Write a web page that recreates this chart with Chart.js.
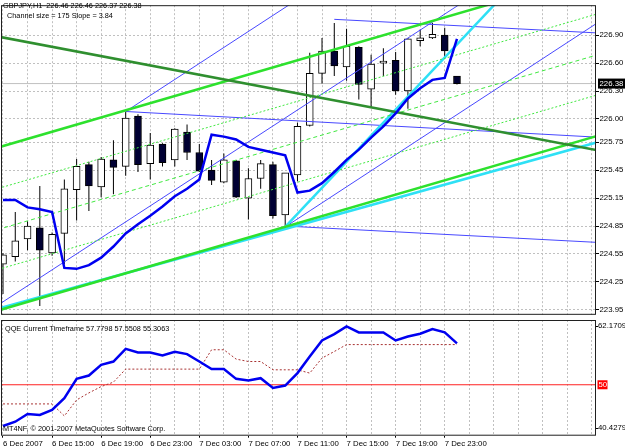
<!DOCTYPE html>
<html>
<head>
<meta charset="utf-8">
<script src="https://cdn.jsdelivr.net/npm/chart.js@4.4.0/dist/chart.umd.min.js"></script>
<style>
  html, body { margin: 0; padding: 0; background: #fff; }
  #wrap { position: relative; width: 625px; height: 448px; overflow: hidden; font-family: "Liberation Sans", Arial, sans-serif; }
  #main { position: absolute; left: 0; top: 0; }
  #sub { position: absolute; left: 0; top: 320px; }
  .lbl { position: absolute; font-size: 7.3px; line-height: 9px; color: #000; white-space: pre; }
</style>
</head>
<body>
<div id="wrap">
  <canvas id="main" width="625" height="320"></canvas>
  <canvas id="sub" width="625" height="128"></canvas>
  <div class="lbl" id="title" style="left:3px;top:1px"></div>
  <div class="lbl" id="chan" style="left:7px;top:10.5px"></div>
  <div class="lbl" id="qqeTitle" style="left:5px;top:323.5px"></div>
  <div class="lbl" style="left:3px;top:424px">MT4NF, © 2001-2007 MetaQuotes Software Corp.</div>
</div>
<script>
// GBPJPY H1, 6 Dec 2007 11:00 onwards (one entry per hourly bar)
const symbol = 'GBPJPY,H1';
const channelSize = 175;
const channelSlope = 3.84;

const opens  = [224.44, 224.52, 224.71, 224.83, 224.56, 224.77, 225.24, 225.51, 225.27, 225.56,
                225.49, 226.03, 225.52, 225.73, 225.56, 225.86, 225.64, 225.45, 225.32, 225.55,
                225.15, 225.36, 225.51, 224.97, 225.40, 225.93, 226.49, 226.73, 226.56, 226.77,
                226.32, 226.60, 226.63, 226.30, 226.84, 226.87, 226.90, 226.46];
const highs  = [224.56, 225.00, 224.90, 225.28, 224.78, 225.35, 225.57, 225.54, 225.59, 225.77,
                226.08, 226.05, 225.85, 225.74, 225.90, 225.94, 225.73, 225.56, 225.63, 225.56,
                225.47, 225.56, 225.54, 225.42, 225.96, 226.71, 226.87, 227.03, 226.97, 226.78,
                226.69, 226.76, 226.72, 226.87, 226.96, 227.03, 226.98, 226.46];
const lows   = [224.12, 224.47, 224.59, 223.99, 224.53, 224.44, 224.91, 225.01, 225.16, 225.19,
                225.39, 225.43, 225.35, 225.49, 225.49, 225.56, 225.43, 225.29, 225.31, 225.15,
                224.92, 225.25, 224.93, 224.84, 225.33, 225.92, 226.38, 226.46, 226.41, 226.21,
                226.13, 226.46, 226.26, 226.11, 226.78, 226.86, 226.66, 226.37];
const closes = [224.54, 224.69, 224.85, 224.59, 224.76, 225.25, 225.49, 225.28, 225.57, 225.48,
                226.01, 225.51, 225.72, 225.53, 225.89, 225.64, 225.44, 225.34, 225.56, 225.16,
                225.36, 225.52, 224.96, 225.42, 225.92, 226.49, 226.73, 226.57, 226.78, 226.37,
                226.59, 226.62, 226.30, 226.86, 226.87, 226.91, 226.73, 226.38];

// thick blue indicator line on the price chart
const blueLine = [225.13, 225.13, 225.05, 225.03, 225.00, 224.40, 224.39, 224.43, 224.51, 224.63,
                  224.77, 224.87, 224.96, 225.06, 225.17, 225.25, 225.35, 225.83, 225.81, 225.78,
                  225.70, 225.67, 225.64, 225.61, 225.21, 225.23, 225.31, 225.43, 225.56, 225.67,
                  225.80, 225.92, 226.06, 226.22, 226.33, 226.42, 226.44, 226.86];

// QQE sub window
const qqeFast = [42.25, 43.06, 44.52, 44.33, 45.27, 47.47, 51.11, 51.73, 53.75, 54.37,
                 56.76, 56.07, 56.07, 55.50, 56.20, 55.76, 54.37, 52.94, 52.94, 51.11,
                 50.79, 51.24, 49.41, 49.85, 52.19, 55.31, 58.33, 59.53, 60.97, 59.84,
                 59.84, 59.84, 58.33, 59.08, 59.59, 60.48, 59.84, 57.7798];
const qqeSlow = [46.40, 46.40, 46.40, 46.40, 46.40, 44.14, 47.15, 48.47, 49.66, 50.49,
                 52.94, 52.94, 52.94, 52.94, 52.94, 52.94, 52.94, 56.58, 56.58, 54.82,
                 54.37, 54.37, 52.81, 52.81, 52.81, 52.19, 55.01, 56.25, 57.5508, 57.5508,
                 57.5508, 57.5508, 57.5508, 57.5508, 57.5508, 57.5508, 57.5508, 57.5508];
const qqeThird = 55.3063;
const qqeLevel = 50;
const qqeMax = 62.1709;
const qqeMin = 40.4279;

// trend lines: [bar1, price1, bar2, price2]
const darkGreenLine = [-1, 226.90, 49, 225.65];
const greenUpper    = [-1, 225.67, 49, 227.59];
const greenDot1     = [-1, 225.23, 49, 227.15];
const greenMid      = [-1, 224.79, 49, 226.71];
const greenDot3     = [-1, 224.36, 49, 226.28];
const greenLower    = [-1, 223.92, 49, 225.84];
const cyanLower     = [-1, 223.94, 49, 225.77];
const cyanSteep     = [23, 224.84, 41, 227.36];
const blueUp1       = [10, 226.08, 25, 227.37];
const blueUp2       = [-1, 223.95, 40, 227.47];
const blueUp3       = [23, 224.84, 49, 227.08];
const blueFlat1     = [27, 227.07, 49, 226.92];
const blueFlat2     = [10, 226.08, 49, 225.80];
const blueFlat3     = [23, 224.85, 49, 224.67];

// axes
const priceTicks = [226.90, 226.60, 226.30, 226.00, 225.75, 225.45, 225.15, 224.85, 224.55, 224.25, 223.95];
const priceMin = 223.896, priceMax = 227.222;
const barMin = -0.163, barMax = 48.33;
const gridBars = [0, 2, 4, 6, 8, 10, 12, 14, 16, 18, 20, 22, 24, 26, 28, 30, 32, 34, 36, 38, 40, 42, 44, 46, 48];
const timeLabelBars = [0, 4, 8, 12, 16, 20, 24, 28, 32, 36];
const timeLabels = ['6 Dec 2007', '6 Dec 15:00', '6 Dec 19:00', '6 Dec 23:00', '7 Dec 03:00',
                    '7 Dec 07:00', '7 Dec 11:00', '7 Dec 15:00', '7 Dec 19:00', '7 Dec 23:00'];

const last = opens.length - 1;
const lastClose = closes[last];

document.getElementById('title').textContent =
  `${symbol}  ${opens[last].toFixed(2)} ${highs[last].toFixed(2)} ${lows[last].toFixed(2)} ${closes[last].toFixed(2)}`;
document.getElementById('chan').textContent = `Channel size = ${channelSize} Slope = ${channelSlope}`;
document.getElementById('qqeTitle').textContent =
  `QQE Current Timeframe ${qqeFast[last].toFixed(4)} ${qqeSlow[last].toFixed(4)} ${qqeThird.toFixed(4)}`;

Chart.defaults.font.family = '"Liberation Sans", Arial, sans-serif';
Chart.defaults.color = '#000';

const FONT = { family: '"Liberation Sans", Arial, sans-serif', size: 7.8 };

function trend(seg, color, width, dash) {
  return {
    type: 'line',
    data: [{ x: seg[0], y: seg[1] }, { x: seg[2], y: seg[3] }],
    borderColor: color,
    borderWidth: width,
    borderDash: dash || [],
    pointRadius: 0,
    clip: 0,
    order: 5
  };
}

// draws the frame of the plot area
const frame = {
  id: 'frame',
  afterDraw(chart) {
    const { ctx, chartArea: a } = chart;
    ctx.save();
    ctx.strokeStyle = '#202020';
    ctx.lineWidth = 1;
    ctx.strokeRect(a.left + 0.5, a.top + 0.5, a.right - a.left - 1, a.bottom - a.top - 1);
    ctx.restore();
  }
};

// current price marker on the price axis
const priceBox = {
  id: 'priceBox',
  afterDraw(chart) {
    const { ctx, chartArea: a, scales } = chart;
    const y = scales.y.getPixelForValue(lastClose);
    ctx.save();
    ctx.fillStyle = '#000';
    ctx.fillRect(a.right + 2, y - 5, 27, 10);
    ctx.fillStyle = '#fff';
    ctx.font = '7.8px "Liberation Sans", Arial, sans-serif';
    ctx.textBaseline = 'middle';
    ctx.fillText(lastClose.toFixed(2), a.right + 3.5, y + 0.5);
    ctx.restore();
  }
};

// labels of the QQE window scale
const qqeScale = {
  id: 'qqeScale',
  afterDraw(chart) {
    const { ctx, chartArea: a, scales } = chart;
    const y = scales.y;
    const yTop = y.getPixelForValue(qqeMax) + 5.5;
    const yBot = y.getPixelForValue(qqeMin) - 7.5;
    const yLev = y.getPixelForValue(qqeLevel);
    ctx.save();
    ctx.font = '7.8px "Liberation Sans", Arial, sans-serif';
    ctx.textBaseline = 'middle';
    ctx.strokeStyle = '#000';
    ctx.lineWidth = 1;
    ctx.beginPath();
    ctx.moveTo(a.right, Math.round(yTop) + 0.5); ctx.lineTo(a.right + 2, Math.round(yTop) + 0.5);
    ctx.moveTo(a.right, Math.round(yBot) + 0.5); ctx.lineTo(a.right + 2, Math.round(yBot) + 0.5);
    ctx.stroke();
    ctx.fillStyle = '#000';
    ctx.fillText(qqeMax.toFixed(4), a.right + 2, yTop);
    ctx.fillText(qqeMin.toFixed(4), a.right + 2, yBot);
    ctx.fillStyle = '#ff0000';
    ctx.fillRect(a.right + 1.5, yLev - 4.5, 10, 9);
    ctx.fillStyle = '#fff';
    ctx.fillText(String(qqeLevel), a.right + 2.5, yLev + 0.5);
    ctx.restore();
  }
};

const wickData = highs.map((h, i) => ({ x: i, y: [lows[i], h] }));
const bodyData = opens.map((o, i) => ({ x: i, y: [o, closes[i]] }));
const bodyColors = opens.map((o, i) => closes[i] >= o ? '#ffffff' : '#000033');

new Chart(document.getElementById('main'), {
  type: 'bar',
  data: {
    datasets: [
      {
        type: 'line',
        data: [{ x: barMin - 1, y: lastClose }, { x: barMax + 1, y: lastClose }],
        borderColor: '#c0c0c0', borderWidth: 1, pointRadius: 0, clip: 0, order: 30
      },
      {
        data: wickData, backgroundColor: '#000', barThickness: 1, grouped: false,
        inflateAmount: 0, borderWidth: 0, order: 21
      },
      {
        data: bodyData, backgroundColor: bodyColors, borderColor: '#000', borderWidth: 1,
        borderSkipped: false, barThickness: 7, grouped: false, minBarLength: 2, order: 20
      },
      trend(darkGreenLine, '#2f8f2f', 2.5),
      trend(greenUpper, '#2de12d', 2.5),
      trend(greenLower, '#2de12d', 2.5),
      trend(greenDot1, '#40e840', 1, [2, 2]),
      trend(greenMid, '#40e840', 1, [4, 3]),
      trend(greenDot3, '#40e840', 1, [2, 2]),
      trend(cyanLower, '#2ee0f5', 2.5),
      trend(cyanSteep, '#2ee0f5', 2.5),
      trend(blueUp1, '#4848ff', 1),
      trend(blueUp2, '#4848ff', 1),
      trend(blueUp3, '#4848ff', 1),
      trend(blueFlat1, '#4848ff', 1),
      trend(blueFlat2, '#4848ff', 1),
      trend(blueFlat3, '#4848ff', 1),
      {
        type: 'line',
        data: blueLine.map((v, i) => ({ x: i, y: v })),
        borderColor: '#0000f0', borderWidth: 2.5, pointRadius: 0, clip: 0, order: 1
      }
    ]
  },
  options: {
    responsive: false,
    animation: false,
    events: [],
    layout: { padding: { left: 1, top: 1, right: 0, bottom: 1.5 } },
    plugins: { legend: { display: false }, tooltip: { enabled: false } },
    scales: {
      x: {
        type: 'linear', min: barMin, max: barMax, offset: false,
        afterBuildTicks: s => { s.ticks = gridBars.map(v => ({ value: v })); },
        afterFit: s => { s.height = 0; },
        ticks: { display: false },
        grid: { color: '#c0c0c0', drawTicks: false, offset: false },
        border: { display: false, dash: [2, 2] }
      },
      y: {
        type: 'linear', position: 'right', min: priceMin, max: priceMax,
        afterBuildTicks: s => { s.ticks = priceTicks.map(v => ({ value: v })); },
        afterFit: s => { s.width = 29; },
        ticks: { font: FONT, color: '#000', padding: 0.5, callback: v => v.toFixed(2) },
        grid: { color: '#c0c0c0', tickLength: 3, tickColor: '#000' },
        border: { display: false, dash: [2, 2] }
      }
    }
  },
  plugins: [frame, priceBox]
});

new Chart(document.getElementById('sub'), {
  type: 'line',
  data: {
    datasets: [
      {
        data: [{ x: barMin - 1, y: qqeLevel }, { x: barMax + 1, y: qqeLevel }],
        borderColor: '#ff2020', borderWidth: 1, pointRadius: 0, clip: 0, order: 3
      },
      {
        data: qqeSlow.map((v, i) => ({ x: i, y: v })),
        borderColor: '#a83232', borderWidth: 1, borderDash: [2, 2], pointRadius: 0, clip: 0, order: 2
      },
      {
        data: qqeFast.map((v, i) => ({ x: i, y: v })),
        borderColor: '#0000f0', borderWidth: 2.5, pointRadius: 0, clip: 0, order: 1
      }
    ]
  },
  options: {
    responsive: false,
    animation: false,
    events: [],
    layout: { padding: { left: 1, top: 0, right: 0, bottom: 0 } },
    plugins: { legend: { display: false }, tooltip: { enabled: false } },
    scales: {
      x: {
        type: 'linear', min: barMin, max: barMax, offset: false,
        afterBuildTicks: s => { s.ticks = gridBars.map(v => ({ value: v })); },
        afterFit: s => { s.height = 12.3; },
        ticks: {
          font: FONT, color: '#000', align: 'start', padding: 1,
          autoSkip: false, maxRotation: 0, minRotation: 0,
          callback: v => {
            const k = timeLabelBars.indexOf(v);
            return k >= 0 ? timeLabels[k] : '';
          }
        },
        grid: {
          color: '#c0c0c0', tickLength: 2, offset: false,
          tickColor: c => (c.tick && timeLabelBars.includes(c.tick.value)) ? '#000' : 'rgba(0,0,0,0)'
        },
        border: { display: false, dash: [2, 2] }
      },
      y: {
        type: 'linear', position: 'right', min: qqeMin, max: qqeMax,
        afterBuildTicks: s => { s.ticks = []; },
        afterFit: s => { s.width = 29; },
        ticks: { display: false },
        grid: { display: false },
        border: { display: false }
      }
    }
  },
  plugins: [frame, qqeScale]
});
</script>
</body>
</html>
